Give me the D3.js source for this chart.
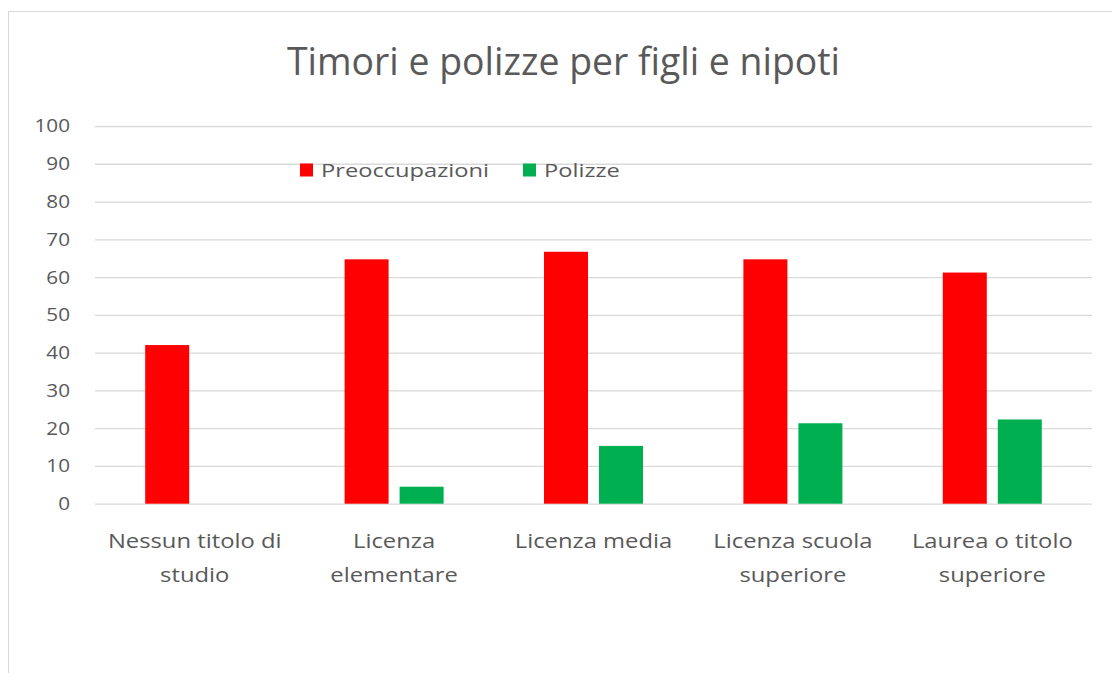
<!DOCTYPE html>
<html>
<head>
<meta charset="utf-8">
<script src="https://cdn.jsdelivr.net/npm/d3@7"></script>
<style>
  html, body { margin: 0; padding: 0; background: #fff; }
  svg { display: block; }
</style>
</head>
<body>
<svg id="chart" width="1112" height="673"></svg>
<script>
// Education levels (x categories), each label split into display lines
const categories = [
  "Nessun titolo di studio",
  "Licenza elementare",
  "Licenza media",
  "Licenza scuola superiore",
  "Laurea o titolo superiore"
];
const categoryLines = [
  ["Nessun titolo di", "studio"],
  ["Licenza", "elementare"],
  ["Licenza media"],
  ["Licenza scuola", "superiore"],
  ["Laurea o titolo", "superiore"]
];
const seriesNames = ["Preoccupazioni", "Polizze"];
const preoccupazioni = [42, 64.7, 66.7, 64.7, 61.2];
const polizze = [null, 4.5, 15.3, 21.3, 22.3];
const yTicks = [0, 10, 20, 30, 40, 50, 60, 70, 80, 90, 100];
const seriesColors = ["#FF0000", "#00B050"];

const svg = d3.select("#chart");
const W = 1112, H = 673;
const textColor = "#595959";
const font = "'Open Sans', sans-serif";
const stretch = 1.22; // wide label lettering

// chart frame
svg.append("rect")
  .attr("x", 8.5).attr("y", 11.5)
  .attr("width", W + 20).attr("height", H + 20)
  .attr("fill", "#fff").attr("stroke", "#D9D9D9").attr("stroke-width", 1);

const plot = { left: 95, right: 1092, top: 126, bottom: 503.7 };

const x0 = d3.scaleBand().domain(categories).range([plot.left, plot.right]).padding(0);
const x1 = d3.scaleBand().domain(seriesNames).range([0, x0.bandwidth()])
  .paddingInner(0.2).paddingOuter(0.9125);
const y = d3.scaleLinear().domain([0, 100]).range([plot.bottom, plot.top]);

// title
svg.append("text")
  .attr("x", 563.5).attr("y", 74.5)
  .attr("text-anchor", "middle")
  .attr("font-family", font).attr("font-size", 39)
  .attr("textLength", 553).attr("lengthAdjust", "spacingAndGlyphs")
  .attr("fill", textColor)
  .text("Timori e polizze per figli e nipoti");

// gridlines + y tick labels
const tickScale = 1.12;
const yAxis = d3.axisLeft(y).tickValues(yTicks)
  .tickSize(-(plot.right - plot.left)).tickPadding(0);
const gy = svg.append("g").attr("transform", `translate(${plot.left},0)`).call(yAxis);
gy.select(".domain").remove();
gy.selectAll(".tick line").attr("stroke", "#D9D9D9").attr("stroke-width", 1.3);
gy.selectAll(".tick text")
  .attr("x", -25 / tickScale)
  .attr("transform", `scale(${tickScale},1)`)
  .attr("font-family", font).attr("font-size", 18.5).attr("fill", textColor);

// bars
const rows = categories.map((c, i) => ({
  cat: c,
  values: [
    { s: seriesNames[0], v: preoccupazioni[i] },
    { s: seriesNames[1], v: polizze[i] }
  ]
}));
const groups = svg.append("g").selectAll("g").data(rows).join("g")
  .attr("transform", d => `translate(${x0(d.cat)},0)`);
groups.selectAll("rect")
  .data(d => d.values.filter(e => e.v != null))
  .join("rect")
  .attr("x", d => x1(d.s))
  .attr("width", x1.bandwidth())
  .attr("y", d => y(d.v))
  .attr("height", d => y(0) - y(d.v))
  .attr("fill", d => seriesColors[seriesNames.indexOf(d.s)]);

// category labels
const xl = svg.append("g");
categories.forEach((c, i) => {
  const cx = x0(c) + x0.bandwidth() / 2;
  const t = xl.append("g")
    .attr("transform", `translate(${cx},547.5) scale(${stretch},1)`)
    .append("text")
    .attr("text-anchor", "middle")
    .attr("font-family", font).attr("font-size", 19.5)
    .attr("fill", textColor);
  categoryLines[i].forEach((line, j) => {
    t.append("tspan").attr("x", 0).attr("y", j * 35).text(line);
  });
});

// legend
const legendX = [300, 523];
const lg = svg.append("g");
seriesNames.forEach((s, i) => {
  lg.append("rect").attr("x", legendX[i]).attr("y", 163.5)
    .attr("width", 13).attr("height", 13).attr("fill", seriesColors[i]);
  lg.append("g")
    .attr("transform", `translate(${legendX[i] + 21},177) scale(1.28,1)`)
    .append("text")
    .attr("font-family", font).attr("font-size", 18.5).attr("fill", textColor)
    .text(s);
});
</script>
</body>
</html>
